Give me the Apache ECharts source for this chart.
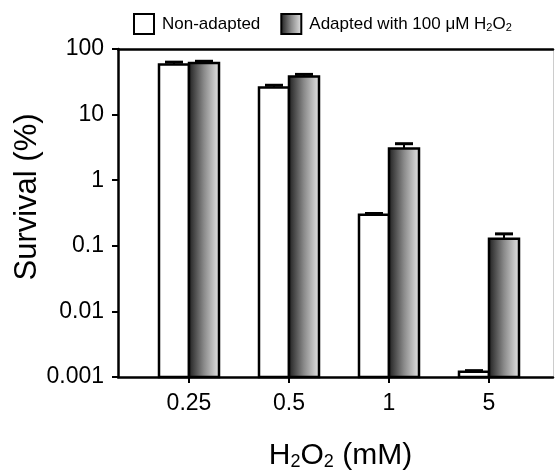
<!DOCTYPE html>
<html>
<head>
<meta charset="utf-8">
</head>
<body style="margin: 0">
<div id="main" style="width: 556px; height: 470px"></div>
<script src="https://cdn.jsdelivr.net/npm/echarts@6/dist/echarts.min.js"></script>
<script>
// H2O2 concentrations (mM)
var doses = ['0.25', '0.5', '1', '5'];
// survival (%) and SD
var nonAdapted = [58, 25.8, 0.297, 0.0012];
var nonAdaptedSd = [5, 2.2, 0.014, 0.00005];
var adapted = [61, 38, 3.03, 0.128];
var adaptedSd = [4, 3, 0.57, 0.024];
var yTickLabels = ['0.001', '0.01', '0.1', '1', '10', '100'];

var font = 'Liberation Sans, Arial, sans-serif';
var adaptedName = 'Adapted with 100 μM H2O2';

var grad = new echarts.graphic.LinearGradient(0, 0, 1, 0, [
    { offset: 0, color: '#1a1a1a' },
    { offset: 0.5, color: '#8a8a8a' },
    { offset: 1, color: '#e8e8e8' }
]);

function toData(vals, sds) {
    return vals.map(function (v, i) { return [i, v, sds[i]]; });
}

function renderBar(side, fill) {
    return function (params, api) {
        var x = api.value(0), v = api.value(1), sd = api.value(2);
        var top = api.coord([x, v]);
        var base = api.coord([x, 0.001]);
        var cap = api.coord([x, v + sd]);
        var w = api.size([0.3, 0])[0];
        var left = side < 0 ? top[0] - w : top[0];
        var mid = left + w / 2;
        return {
            type: 'group',
            children: [
                {
                    type: 'rect',
                    shape: { x: left, y: top[1], width: w, height: base[1] - top[1] },
                    style: { fill: fill, stroke: '#000', lineWidth: 2.5 }
                },
                {
                    type: 'line',
                    shape: { x1: mid, y1: top[1], x2: mid, y2: cap[1] },
                    style: { stroke: '#000', lineWidth: 2 }
                },
                {
                    type: 'line',
                    shape: { x1: mid - 9, y1: cap[1], x2: mid + 9, y2: cap[1] },
                    style: { stroke: '#000', lineWidth: 3 }
                }
            ]
        };
    };
}

var chart = echarts.init(document.getElementById('main'));

var option = {
    animation: false,
    textStyle: { fontFamily: font, color: '#000' },
    legend: {
        data: ['Non-adapted', adaptedName],
        left: 128,
        top: 8,
        icon: 'rect',
        itemWidth: 20,
        itemHeight: 20,
        itemGap: 20,
        formatter: function (name) {
            if (name === adaptedName) {
                return '{t|Adapted with 100 μM H}{s|2}{t|O}{s|2}';
            }
            return '{t|' + name + '}';
        },
        textStyle: {
            fontFamily: font,
            color: '#000',
            padding: [0, 0, 0, 3],
            rich: {
                t: { fontSize: 17, fontFamily: font, color: '#000' },
                s: { fontSize: 11, fontFamily: font, color: '#000', padding: [8, 0, 0, 0] }
            }
        }
    },
    grid: { left: 118, right: 3, top: 49, bottom: 93, outerBoundsMode: 'none' },
    xAxis: [{
        type: 'value',
        min: -0.71,
        max: 3.64,
        name: '{t|H}{s|2}{t|O}{s|2}{t| (mM)}',
        nameLocation: 'middle',
        nameGap: 63,
        nameTextStyle: {
            padding: [0, 0, 0, 10],
            rich: {
                t: { fontSize: 30, fontFamily: font, color: '#000' },
                s: { fontSize: 18, fontFamily: font, color: '#000', padding: [13, 0, 0, 0] }
            }
        },
        axisLine: { onZero: false, lineStyle: { color: '#000', width: 2.5 } },
        axisTick: { customValues: [0, 1, 2, 3], length: 6, lineStyle: { color: '#000', width: 2 } },
        axisLabel: {
            customValues: [0, 1, 2, 3],
            formatter: function (v) { return doses[v]; },
            fontSize: 23,
            color: '#000',
            fontFamily: font,
            margin: 15
        },
        splitLine: { show: false }
    }, {
        type: 'value',
        position: 'top',
        min: -0.71,
        max: 3.64,
        axisLine: { onZero: false, lineStyle: { color: '#000', width: 2.5 } },
        axisTick: { show: false },
        axisLabel: { show: false },
        splitLine: { show: false }
    }],
    yAxis: [{
        type: 'log',
        logBase: 10,
        min: 0.001,
        max: 100,
        name: 'Survival (%)',
        nameLocation: 'middle',
        nameGap: 75,
        nameMoveOverlap: false,
        nameTextStyle: { fontSize: 31, fontFamily: font, color: '#000', padding: [0, 0, 0, 32] },
        axisLine: { show: true, onZero: false, lineStyle: { color: '#000', width: 2.5 } },
        axisTick: { show: true, length: 6, lineStyle: { color: '#000', width: 2 } },
        axisLabel: {
            formatter: function (v) { return yTickLabels[Math.round(Math.log10(v)) + 3]; },
            fontSize: 23,
            color: '#000',
            fontFamily: font,
            margin: 14
        },
        splitLine: { show: false },
        minorTick: { show: false }
    }, {
        type: 'log',
        position: 'right',
        min: 0.001,
        max: 100,
        axisLine: { show: true, onZero: false, lineStyle: { color: '#ccc', width: 1 } },
        axisTick: { show: false },
        axisLabel: { show: false },
        splitLine: { show: false }
    }],
    series: [{
        name: 'Non-adapted',
        type: 'custom',
        renderItem: renderBar(-1, '#fff'),
        itemStyle: { color: '#fff', borderColor: '#000', borderWidth: 2 },
        encode: { x: 0, y: 1 },
        data: toData(nonAdapted, nonAdaptedSd)
    }, {
        name: adaptedName,
        type: 'custom',
        renderItem: renderBar(1, grad),
        itemStyle: { color: grad, borderColor: '#000', borderWidth: 2 },
        encode: { x: 0, y: 1 },
        data: toData(adapted, adaptedSd)
    }]
};

chart.setOption(option);
</script>
</body>
</html>
